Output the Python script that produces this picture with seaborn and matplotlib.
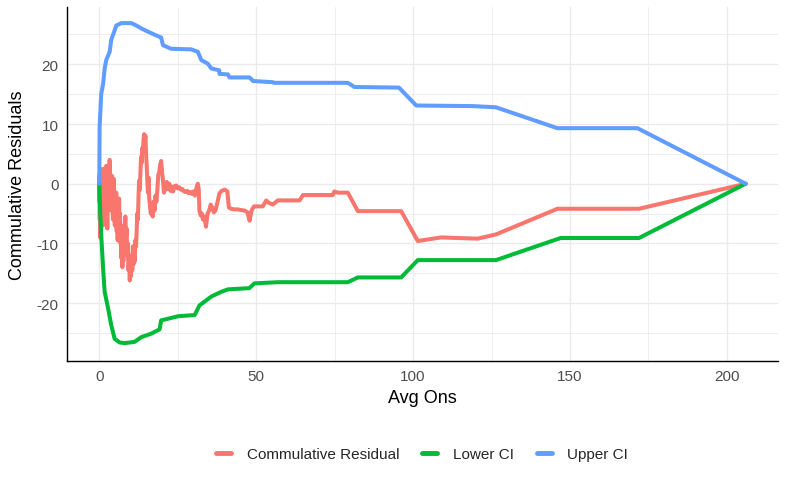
import pandas as pd
import seaborn as sns
import matplotlib.pyplot as plt
from matplotlib.ticker import MultipleLocator

# Commulative residual
resid_x = [0.0, 0.05, 0.1, 0.15, 0.2, 0.25, 0.3, 0.35, 0.4, 0.5, 0.6, 0.7, 0.8, 0.9, 1.0, 1.1, 1.2,
           1.35, 1.5, 1.65, 1.8, 1.95, 2.1, 2.25, 2.4, 2.55, 2.7, 2.85, 3.0, 3.15, 3.3, 3.45, 3.6,
           3.75, 3.9, 4.05, 4.2, 4.35, 4.5, 4.65, 4.8, 4.95, 5.1, 5.25, 5.4, 5.55, 5.7, 5.85, 6.0,
           6.15, 6.3, 6.45, 6.6, 6.75, 6.9, 7.05, 7.2, 7.35, 7.5, 7.65, 7.8, 7.95, 8.1, 8.3, 8.5,
           8.7, 8.9, 9.1, 9.3, 9.5, 9.7, 9.9, 10.1, 10.3, 10.5, 10.7, 10.9, 11.1, 11.3, 11.5, 11.7,
           11.9, 12.1, 12.3, 12.5, 12.7, 12.9, 13.1, 13.3, 13.5, 13.7, 13.9, 14.1, 14.3, 14.5, 14.7,
           14.9, 15.1, 15.3, 15.5, 15.7, 15.9, 16.1, 16.4, 16.7, 17.0, 17.3, 17.6, 17.9, 18.2, 18.5,
           18.8, 19.1, 19.4, 19.7, 20.0, 20.3, 20.6, 20.9, 21.2, 21.5, 21.9, 22.3, 22.7, 23.1, 23.5,
           24.0, 24.5, 25.0, 25.5, 26.0, 26.5, 27.0, 27.5, 28.0, 28.5, 29.0, 29.5, 30.0, 30.5, 31.0,
           31.4, 31.7, 31.9, 32.3, 32.7, 33.0, 33.5, 34.0, 34.5, 35.0, 35.5, 36.0, 36.5, 37.0, 37.7,
           38.3, 39.0, 40.0, 40.8, 41.3, 42.0, 43.0, 44.0, 45.0, 46.3, 47.2, 47.9, 48.5, 49.3, 52.1,
           53.2, 54.0, 55.3, 56.9, 63.8, 64.9, 74.4, 74.9, 76.0, 79.2, 82.4, 96.2, 101.5, 108.9,
           114.2, 120.6, 126.4, 146.0, 172.0, 206.0]
resid_y = [0.0, -3.0, 1.5, -6.0, 2.0, -9.0, -2.0, 1.8, -7.5, 0.5, -4.0, 2.2, -6.5, 0.0, -5.0, 2.5, -7.0,
           -1.0, 1.5, -5.5, 0.5, -6.5, -1.0, 3.0, -4.0, -7.5, -2.0, 2.5, -3.0, 1.0, 4.0, -2.5, 1.5,
           -4.5, -1.0, 1.3, -3.5, -6.0, -2.0, 0.8, -4.0, -7.0, -2.5, -5.0, -1.5, -8.0, -4.0, -9.5, -3.5,
           -6.0, -2.5, -8.5, -5.0, -10.0, -7.0, -12.5, -9.0, -14.0, -10.5, -13.0, -8.0, -11.0, -7.0, -5.5, -9.0,
           -7.5, -12.0, -10.0, -14.5, -12.5, -16.2, -13.5, -15.5, -12.0, -14.5, -10.5, -13.5, -11.0, -13.0, -9.5, -10.5,
           -8.0, -5.0, -6.0, -2.0, 0.5, -1.0, 2.0, 4.5, 3.5, 6.0, 5.5, 7.5, 8.3, 7.0, 8.0,
           5.0, 3.0, 0.5, -1.5, 1.0, -2.5, -3.5, -5.0, -4.0, -5.5, -3.0, -4.5, -2.0, -3.0, -1.0,
           1.5, 2.0, 3.2, 3.8, 2.0, 0.5, -1.5, 0.0, -1.0, 0.3, -0.8, 0.0, -1.2, -0.5, -1.3,
           -0.4, -0.3, -0.8, -0.6, -1.0, -0.9, -1.3, -1.4, -1.2, -1.6, -1.4, -1.7, -1.3, -2.0, -0.6,
           0.0, -1.0, -4.5, -5.3, -5.0, -6.0, -5.5, -7.2, -5.0, -4.5, -3.5, -4.0, -4.8, -4.5, -3.0,
           -1.6, -1.2, -1.0, -1.3, -4.0, -4.2, -4.3, -4.3, -4.4, -4.5, -4.8, -6.2, -4.5, -3.8, -3.8,
           -2.8, -3.2, -3.5, -2.8, -2.8, -1.9, -1.9, -1.3, -1.5, -1.5, -4.6, -4.6, -9.6, -9.0,
           -9.1, -9.2, -8.5, -4.2, -4.2, 0.0]

# Lower CI
lower_x = [0.0, 0.1, 0.3, 0.6, 1.2, 1.7, 2.8, 3.8, 4.9, 6.5, 8.1, 11.2, 13.4, 16.6, 19.2, 19.7,
           25.1, 30.4, 31.9, 35.7, 38.9, 41.0, 47.8, 49.4, 56.9, 79.2, 82.4, 96.2, 101.5, 126.4,
           147.0, 172.0, 206.0]
lower_y = [0.0, -2.0, -5.0, -8.5, -14.2, -18.1, -20.9, -23.7, -26.0, -26.6, -26.7, -26.5, -25.7,
           -25.1, -24.4, -22.9, -22.2, -22.0, -20.4, -18.9, -18.1, -17.7, -17.5, -16.7, -16.5,
           -16.5, -15.7, -15.7, -12.8, -12.8, -9.1, -9.1, 0.0]

# Upper CI
upper_x = [0.0, 0.05, 0.1, 0.6, 1.2, 1.7, 2.2, 3.3, 3.8, 4.9, 5.4, 7.0, 10.2, 11.8, 13.4, 16.6,
           19.2, 19.7, 20.3, 22.9, 29.3, 31.4, 32.5, 34.6, 35.7, 38.2, 38.3, 41.0, 41.5, 47.9,
           49.0, 55.3, 55.7, 79.2, 81.3, 95.5, 101.0, 119.0, 126.4, 146.0, 171.5, 206.0]
upper_y = [0.0, 5.0, 9.5, 15.0, 16.7, 19.3, 20.7, 22.1, 24.1, 25.7, 26.5, 26.9, 26.9, 26.5, 26.0,
           25.2, 24.6, 24.5, 23.2, 22.6, 22.5, 22.1, 20.7, 20.1, 19.3, 19.0, 18.4, 18.3, 17.8,
           17.8, 17.2, 17.0, 16.9, 16.9, 16.2, 16.1, 13.1, 13.0, 12.8, 9.3, 9.3, 0.0]

series_names = ["Commulative Residual", "Lower CI", "Upper CI"]
colors = ["#F8766D", "#00BA38", "#619CFF"]

df = pd.concat([
    pd.DataFrame({"x": resid_x, "y": resid_y, "series": series_names[0]}),
    pd.DataFrame({"x": lower_x, "y": lower_y, "series": series_names[1]}),
    pd.DataFrame({"x": upper_x, "y": upper_y, "series": series_names[2]}),
], ignore_index=True)

sns.set_theme(style="whitegrid")
plt.rcParams["font.family"] = ["Liberation Sans", "DejaVu Sans"]
plt.rcParams["axes.unicode_minus"] = False

fig = plt.figure(figsize=(7.88, 4.85), dpi=100)
ax = fig.add_axes([67 / 788, 1 - 362 / 485, (778 - 67) / 788, (362 - 8) / 485])

sns.lineplot(data=df, x="x", y="y", hue="series", hue_order=series_names,
             palette=colors, estimator=None, sort=False, linewidth=2.9, ax=ax)

ax.set_xlim(-10.3, 216.3)
ax.set_ylim(-29.7, 29.6)
ax.xaxis.set_major_locator(MultipleLocator(50))
ax.xaxis.set_minor_locator(MultipleLocator(25))
ax.yaxis.set_major_locator(MultipleLocator(10))
ax.yaxis.set_minor_locator(MultipleLocator(5))
ax.grid(which="major", color="#EBEBEB", linewidth=1.0)
ax.grid(which="minor", color="#EBEBEB", linewidth=0.6)
ax.set_axisbelow(True)
ax.set_facecolor("white")

for side in ["top", "right"]:
    ax.spines[side].set_visible(False)
for side in ["left", "bottom"]:
    ax.spines[side].set_visible(True)
    ax.spines[side].set_color("black")
    ax.spines[side].set_linewidth(1.0)

ax.tick_params(which="both", length=0, labelsize=11, labelcolor="#4D4D4D", pad=6)
ax.set_xlabel("Avg Ons", fontsize=13, color="black", labelpad=4)
ax.set_ylabel("Commulative Residuals", fontsize=13, color="black", labelpad=8)

ax.get_legend().remove()
handles = [plt.Line2D([], [], color=c, linewidth=3.5) for c in colors]
fig.legend(handles, series_names, loc="center", bbox_to_anchor=(422 / 788, 1 - 455 / 485),
           ncol=3, frameon=False, fontsize=11, handlelength=1.0, handletextpad=1.0,
           columnspacing=1.5)

fig.savefig("out.png", dpi=100)
